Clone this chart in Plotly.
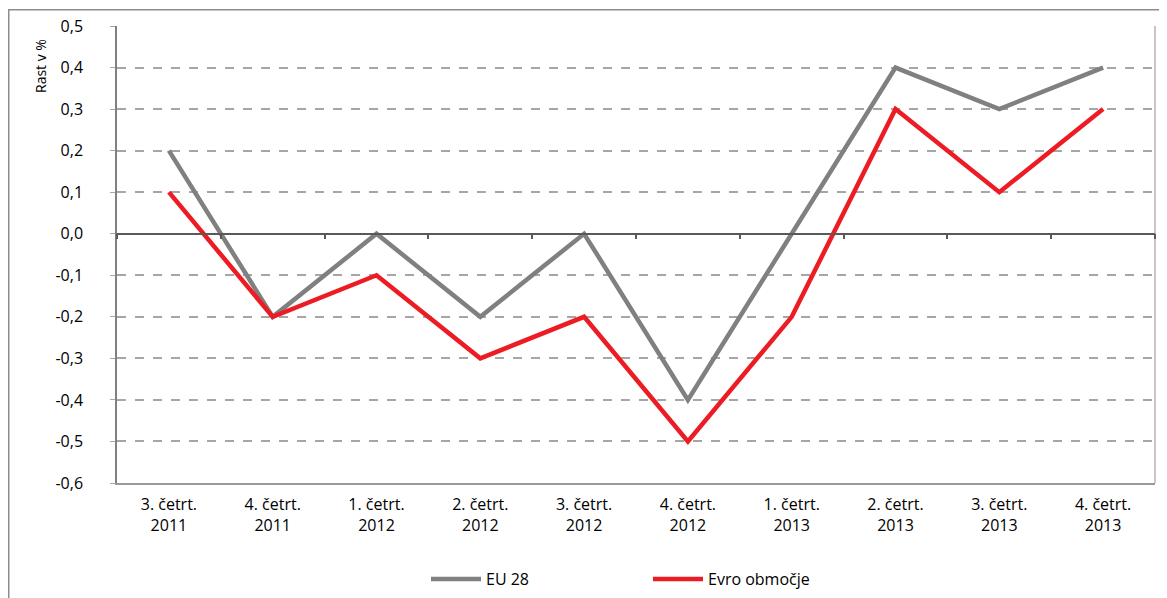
import plotly.graph_objects as go

categories = ["3. četrt.<br>2011", "4. četrt.<br>2011", "1. četrt.<br>2012", "2. četrt.<br>2012",
              "3. četrt.<br>2012", "4. četrt.<br>2012", "1. četrt.<br>2013", "2. četrt.<br>2013",
              "3. četrt.<br>2013", "4. četrt.<br>2013"]
eu28 = [0.2, -0.2, 0.0, -0.2, 0.0, -0.4, 0.0, 0.4, 0.3, 0.4]
evro = [0.1, -0.2, -0.1, -0.3, -0.2, -0.5, -0.2, 0.3, 0.1, 0.3]
y_ticks = [0.5, 0.4, 0.3, 0.2, 0.1, 0.0, -0.1, -0.2, -0.3, -0.4, -0.5, -0.6]
y_ticktext = ["0,5", "0,4", "0,3", "0,2", "0,1", "0,0", "-0,1", "-0,2", "-0,3", "-0,4", "-0,5", "-0,6"]

# page body has an 8px margin, so the figure is drawn 8px in from the window edge
OFF = 8
W, H = 1167 - OFF, 598 - OFF
ML, MR, MT, MB = 117 - OFF, 12, 26 - OFF, 115
pw, ph = W - ML - MR, H - MT - MB
ymin, ymax = -0.6, 0.5

idx = list(range(len(categories)))
FONT = "Open Sans, Noto Sans, sans-serif"

fig = go.Figure()
fig.add_trace(go.Scatter(x=idx, y=eu28, mode="lines", name="EU 28",
                         line=dict(color="#808080", width=4.5)))
fig.add_trace(go.Scatter(x=idx, y=evro, mode="lines", name="Evro območje",
                         line=dict(color="#ED1C24", width=4.5)))
# invisible trace to activate the zero-line axis
fig.add_trace(go.Scatter(x=idx, y=eu28, xaxis="x2", mode="lines", showlegend=False,
                         line=dict(width=0), hoverinfo="skip", opacity=0))

fig.update_layout(
    width=W, height=H,
    margin=dict(l=ML, r=MR, t=MT, b=MB, autoexpand=False),
    paper_bgcolor="white", plot_bgcolor="white",
    font=dict(family=FONT, size=16, color="black"),
    showlegend=True,
    legend=dict(orientation="h", xref="container", yref="container",
                x=(425 - OFF + 1) / W, xanchor="left",
                y=1 - (579 - OFF) / H, yanchor="middle",
                entrywidth=157, entrywidthmode="pixels",
                font=dict(size=16), bgcolor="rgba(0,0,0,0)", itemwidth=50),
    xaxis=dict(range=[-0.5, 9.5], tickvals=idx, ticktext=categories,
               showgrid=False, zeroline=False, showline=True, linecolor="#999999",
               linewidth=1.5, mirror=False, ticks="", ticklabelstandoff=6,
               tickfont=dict(size=16), automargin=False),
    xaxis2=dict(range=[-0.5, 9.5], overlaying="x", anchor="free",
                position=(0 - ymin) / (ymax - ymin), side="bottom",
                tickvals=[i - 0.5 for i in range(len(categories) + 1)],
                showticklabels=False, ticks="outside", ticklen=5, tickcolor="#595959",
                tickwidth=1.5, showline=True, linecolor="#595959", linewidth=1.5,
                showgrid=False, zeroline=False, automargin=False),
    yaxis=dict(range=[ymin, ymax], tickvals=y_ticks, ticktext=y_ticktext,
               showgrid=True, gridcolor="#A6A6A6", griddash="dash", gridwidth=1.5,
               zeroline=False, showline=True, linecolor="#808080", linewidth=1.5,
               ticks="outside", ticklen=5, tickcolor="#A6A6A6", ticklabelstandoff=24,
               tickfont=dict(size=16), automargin=False),
    annotations=[dict(text="Rast v %", textangle=-90, xref="paper", yref="paper",
                      x=(40 - OFF - ML) / pw, y=(MT + ph - (66 - OFF)) / ph, showarrow=False,
                      xanchor="center", yanchor="middle", font=dict(size=14))],
    shapes=[
        # plot area border (right side)
        dict(type="line", xref="paper", yref="paper", x0=1, x1=1, y0=0, y1=1,
             line=dict(color="#B3B3B3", width=1.5), layer="below"),
        # outer chart border
        dict(type="rect", xref="paper", yref="paper",
             x0=(8 - OFF - ML + 0.75) / pw, x1=(W + 20 - ML) / pw,
             y0=-(H + 20 - MT - ph) / ph, y1=(MT + ph - (9 - OFF) - 0.75) / ph,
             line=dict(color="#8C8C8C", width=1.5), layer="below"),
    ],
)

fig.write_html("out.html")
